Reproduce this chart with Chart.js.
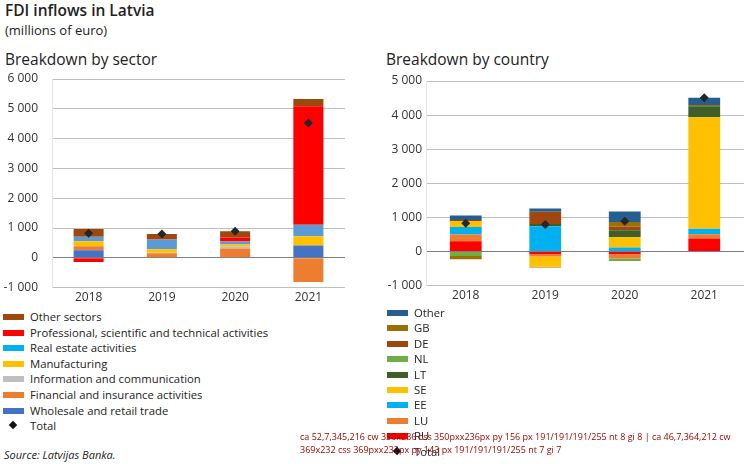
<!DOCTYPE html>
<html>
<head>
<meta charset="utf-8">
<script src="https://cdn.jsdelivr.net/npm/chart.js@4"></script>
<style>
  body { margin: 0; width: 749px; height: 464px; background: #fff; font-family: 'Open Sans', sans-serif; color: #222; position: relative; overflow: hidden; }
  .abs { position: absolute; white-space: nowrap; }
  #title { left: 5px; top: -1px; font-size: 15.5px; font-weight: 600; }
  #unit { left: 5px; top: 21px; font-size: 13px; }
  .sub { top: 48px; font-size: 15.5px; }
  #subL { left: 5px; }
  #subR { left: 386px; }
  #wrapL { left: 0; top: 72px; width: 350px; height: 236px; }
  #wrapR { left: 380px; top: 74px; width: 369px; height: 232px; }
  .legend { font-size: 11.3px; color: #222; }
  .legend div { height: 15.6px; line-height: 15.6px; position: relative; padding-left: 27px; }
  .legend span.box { position: absolute; left: 0; top: 5px; width: 21px; height: 6px; }
  .legend span.dia { position: absolute; left: 7px; top: 4px; width: 6px; height: 6px; background: #111; transform: rotate(45deg); }
  #legL { left: 3px; top: 309px; }
  #legR { left: 387px; top: 305px; }
  #legR div { height: 15.4px; line-height: 15.4px; }
  #source { left: 4px; top: 447px; font-size: 11px; font-style: italic; }
  #dbg { left: 300px; top: 430px; font-size: 9px; color: #900; white-space: normal; width: 440px; }
</style>
</head>
<body>
<div class="abs" id="title">FDI inflows in Latvia</div>
<div class="abs" id="unit">(millions of euro)</div>
<div class="abs sub" id="subL">Breakdown by sector</div>
<div class="abs sub" id="subR">Breakdown by country</div>
<div class="abs" id="wrapL"><canvas id="sectorChart"></canvas></div>
<div class="abs" id="wrapR"><canvas id="countryChart"></canvas></div>
<div class="abs legend" id="legL"></div>
<div class="abs legend" id="legR"></div>
<div class="abs" id="source">Source: Latvijas Banka.</div>
<div class="abs" id="dbg"></div>
<script>
const years = ['2018', '2019', '2020', '2021'];

// Breakdown by sector (millions of euro), bottom of stack first
const wholesale     = [256, 0, 20, 411];
const financial     = [133, 150, 290, -811];
const infoComm      = [10, 20, 60, 0];
const manufacturing = [160, 120, 80, 311];
const realEstate    = [144, 320, 100, 389];
const professional  = [-144, 20, 130, 3978];
const otherSectors  = [267, 170, 210, 244];
const sectorTotal   = [826, 800, 890, 4522];

// Breakdown by country (millions of euro), bottom of stack first
const ru = [301, -78, -78, 378];
const lu = [194, -68, -126, 126];
const ee = [223, 737, 116, 165];
const se = [175, -300, 310, 3269];
const lt = [0, 68, 194, 320];
const nl = [-130, 0, -78, 0];
const de = [30, 359, 116, 0];
const gb = [-100, -20, 126, 39];
const otherCountries = [136, 97, 310, 213];
const countryTotal = [829, 795, 890, 4510];

const sectorSeries = [
    { label: 'Wholesale and retail trade', data: wholesale, color: '#4472C4' },
    { label: 'Financial and insurance activities', data: financial, color: '#ED7D31' },
    { label: 'Information and communication', data: infoComm, color: '#BFBFBF' },
    { label: 'Manufacturing', data: manufacturing, color: '#FFC000' },
    { label: 'Real estate activities', data: realEstate, color: '#5B9BD5', legendColor: '#00B0F0' },
    { label: 'Professional, scientific and technical activities', data: professional, color: '#FF0000' },
    { label: 'Other sectors', data: otherSectors, color: '#9E480E' }
];

const countrySeries = [
    { label: 'RU', data: ru, color: '#FF0000' },
    { label: 'LU', data: lu, color: '#ED7D31' },
    { label: 'EE', data: ee, color: '#00B0F0' },
    { label: 'SE', data: se, color: '#FFC000' },
    { label: 'LT', data: lt, color: '#3F5F28' },
    { label: 'NL', data: nl, color: '#70AD47' },
    { label: 'DE', data: de, color: '#9E480E' },
    { label: 'GB', data: gb, color: '#997300' },
    { label: 'Other', data: otherCountries, color: '#255E91' }
];

function fmt(v) {
    const s = Math.abs(v).toString().replace(/\B(?=(\d{3})+(?!\d))/g, ' ');
    return (v < 0 ? '-' : '') + s;
}

const dbg = [];

function buildChart(id, series, total, yMax, axisWidth, tickPad, barPct) {
    const datasets = series.map(s => ({
        type: 'bar', label: s.label, data: s.data, backgroundColor: s.color,
        borderWidth: 0, order: 1, barPercentage: barPct, categoryPercentage: 0.5
    }));
    datasets.push({
        type: 'line', label: 'Total', data: total, showLine: false, stack: 'total', order: 0,
        pointStyle: 'rectRot', pointRadius: 4.5, pointBackgroundColor: '#262626', pointBorderWidth: 0
    });
    const canvas = document.getElementById(id);
    return new Chart(canvas, {
        type: 'bar',
        data: { labels: years, datasets: datasets },
        options: {
            responsive: true, maintainAspectRatio: false, animation: false,
            layout: { padding: { left: 0, right: 5, top: 0, bottom: 0 } },
            plugins: { legend: { display: false }, tooltip: { enabled: false } },
            scales: {
                x: {
                    stacked: true,
                    grid: { display: false, drawTicks: false },
                    border: { display: false },
                    ticks: { color: '#333', font: { family: 'Open Sans', size: 12 }, padding: 3 }
                },
                y: {
                    stacked: true, min: -1000, max: yMax,
                    grid: { color: c => (c.tick && c.tick.value === 0) ? '#7f7f7f' : '#bfbfbf', lineWidth: 1, drawTicks: false },
                    afterFit: scale => { scale.width = axisWidth; scale.paddingTop = 7; scale.paddingBottom = 7; },
                    ticks: { stepSize: 1000, color: '#333', font: { family: 'Open Sans', size: 12 }, padding: tickPad, callback: v => fmt(v) }
                }
            }
        }
    });
}

function buildLegend(id, series) {
    const el = document.getElementById(id);
    series.slice().reverse().forEach(s => {
        const row = document.createElement('div');
        row.innerHTML = '<span class="box" style="background:' + (s.legendColor || s.color) + '"></span>' + s.label;
        el.appendChild(row);
    });
    const tot = document.createElement('div');
    tot.innerHTML = '<span class="dia"></span>Total';
    el.appendChild(tot);
}

const cL = buildChart('sectorChart', sectorSeries, sectorTotal, 6000, 52, 14, 0.82);
const cR = buildChart('countryChart', countrySeries, countryTotal, 5000, 46, 4, 0.8);
buildLegend('legL', sectorSeries);
buildLegend('legR', countrySeries);
[cL, cR].forEach(c => {
    const y = c.scales.y, a = c.chartArea;
    const py = Math.round(y.getPixelForValue(1000));
    const px = c.ctx.getImageData(Math.round(a.left) + 3, py, 1, 1).data;
    dbg.push('ca ' + [a.left, a.top, a.right, a.bottom].map(Math.round).join(',') + ' cw ' + c.canvas.width + 'x' + c.canvas.height +
        ' css ' + c.canvas.style.width + 'x' + c.canvas.style.height + ' py ' + py + ' px ' + Array.from(px).join('/') +
        ' nt ' + y.ticks.length + ' gi ' + (y._gridLineItems ? y._gridLineItems.length : 'none'));
});
document.getElementById('dbg').textContent = dbg.join(' | ');
</script>
</body>
</html>
